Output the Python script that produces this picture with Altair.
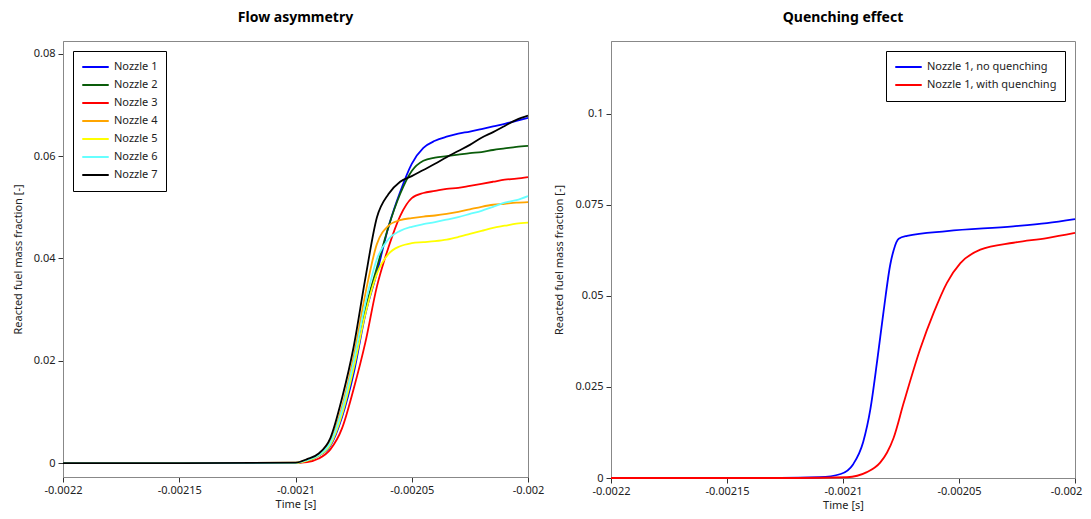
import altair as alt
import pandas as pd

# ---------------- Left panel: flow asymmetry ----------------
time_left = [-0.0022, -0.00215, -0.0021, -0.002095, -0.00209, -0.002085, -0.00208,
             -0.002075, -0.00207, -0.002065, -0.00206, -0.002055, -0.00205,
             -0.002045, -0.00204, -0.002035, -0.00203, -0.002025, -0.00202,
             -0.002015, -0.00201, -0.002005, -0.002]

nozzle1 = [0, 0, 0.00005, 0.0005, 0.0015, 0.0034, 0.0090, 0.0175, 0.0290, 0.0372, 0.0462,
           0.0530, 0.0585, 0.0616, 0.0630, 0.0638, 0.0644, 0.0648, 0.0653, 0.0658,
           0.0663, 0.0669, 0.0675]
nozzle2 = [0, 0, 0.00005, 0.0005, 0.0015, 0.0038, 0.0097, 0.0185, 0.0300, 0.0382, 0.0462,
           0.0526, 0.0571, 0.0591, 0.0597, 0.0600, 0.0603, 0.0606, 0.0608, 0.0612,
           0.0615, 0.0618, 0.0620]
nozzle3 = [0, 0, 0.00005, 0.0002, 0.0009, 0.0027, 0.0068, 0.0145, 0.0235, 0.0345, 0.0422,
           0.0483, 0.0518, 0.0528, 0.0532, 0.0536, 0.0538, 0.0542, 0.0546, 0.0550,
           0.0554, 0.0556, 0.0559]
nozzle4 = [0, 0, 0.0001, 0.0007, 0.0017, 0.0043, 0.0110, 0.0207, 0.0330, 0.0428, 0.0464,
           0.0475, 0.0479, 0.0482, 0.0484, 0.0487, 0.0491, 0.0496, 0.0501, 0.0505,
           0.0507, 0.0509, 0.0510]
nozzle5 = [0, 0, 0.00005, 0.0005, 0.0015, 0.0036, 0.0095, 0.0185, 0.0291, 0.0370, 0.0409,
           0.0424, 0.0430, 0.0432, 0.0434, 0.0437, 0.0442, 0.0448, 0.0454, 0.0460,
           0.0464, 0.0468, 0.0470]
nozzle6 = [0, 0, 0.00005, 0.0006, 0.0016, 0.0040, 0.0104, 0.0198, 0.0311, 0.0399, 0.0438,
           0.0454, 0.0462, 0.0467, 0.0471, 0.0476, 0.0481, 0.0487, 0.0493, 0.0501,
           0.0509, 0.0514, 0.0522]
nozzle7 = [0, 0, 0.0001, 0.0008, 0.0019, 0.0049, 0.0127, 0.0227, 0.0360, 0.0480, 0.0526,
           0.0550, 0.0561, 0.0573, 0.0585, 0.0598, 0.0610, 0.0622, 0.0636, 0.0647,
           0.0659, 0.0671, 0.0679]

left_names = ["Nozzle 1", "Nozzle 2", "Nozzle 3", "Nozzle 4", "Nozzle 5", "Nozzle 6", "Nozzle 7"]
left_colors = ["#0000ff", "#0a5c0a", "#ff0000", "#ffa500", "#ffff00", "#66ffff", "#000000"]
left_series = [nozzle1, nozzle2, nozzle3, nozzle4, nozzle5, nozzle6, nozzle7]

# ---------------- Right panel: quenching effect ----------------
time_noq = [-0.0022, -0.002127, -0.00211, -0.002101, -0.0020956, -0.0020913, -0.0020882,
            -0.0020853, -0.0020825, -0.0020796, -0.0020782, -0.002076, -0.0020724,
            -0.0020552, -0.0020266, -0.0020121, -0.002]
val_noq = [0, 0, 0.0002, 0.0011, 0.0038, 0.0099, 0.0189, 0.0320, 0.0458, 0.0587, 0.0625,
           0.0657, 0.0665, 0.0678, 0.0691, 0.0700, 0.0711]

time_q = [-0.0022, -0.00212, -0.0020983, -0.0020897, -0.0020839, -0.002081, -0.0020782,
          -0.0020739, -0.0020667, -0.0020609, -0.0020552, -0.0020494, -0.0020408,
          -0.0020265, -0.0020121, -0.002]
val_q = [0, 0, 0.0002, 0.0016, 0.0043, 0.0070, 0.0110, 0.0205, 0.0355, 0.0454, 0.0536,
         0.0590, 0.0627, 0.0646, 0.0659, 0.0673]

right_names = ["Nozzle 1, no quenching", "Nozzle 1, with quenching"]
right_colors = ["#0000ff", "#ff0000"]

rows = []
for name, vals in zip(left_names, left_series):
    for t, v in zip(time_left, vals):
        rows.append({"t": t, "v": v, "s": name})
df_left = pd.DataFrame(rows)

rows = []
for t, v in zip(time_noq, val_noq):
    rows.append({"t": t, "v": v, "s": right_names[0]})
for t, v in zip(time_q, val_q):
    rows.append({"t": t, "v": v, "s": right_names[1]})
df_right = pd.DataFrame(rows)

FONT = "Noto Sans"
x_ticks = [-0.0022, -0.00215, -0.0021, -0.00205, -0.002]
LABEL_EXPR = "datum.value < 0 ? '-' + format(-datum.value, '~g') : format(datum.value, '~g')"

def xenc(last_shift=0):
    extra = {}
    if last_shift:
        extra["labelOffset"] = {"condition": {"test": "datum.value > -0.0020001",
                                              "value": last_shift}, "value": 0}
    return alt.X("t:Q", title="Time [s]",
                 scale=alt.Scale(domain=[-0.0022, -0.002], nice=False, zero=False),
                 axis=alt.Axis(values=x_ticks, labelExpr=LABEL_EXPR, grid=False,
                               labelFlush=False, **extra))

def legend(orient):
    return alt.Legend(title=None, orient=orient, offset=10, strokeColor="#000000",
                      fillColor="#ffffff", padding=8, symbolType="stroke",
                      symbolSize=700, symbolStrokeWidth=2, clipHeight=16, rowPadding=2,
                      labelFontSize=11, labelFont=FONT, labelColor="#222222")

left = alt.Chart(df_left, title="Flow asymmetry").mark_line(
    strokeWidth=1.8, interpolate="monotone"
).encode(
    x=xenc(),
    y=alt.Y("v:Q", title="Reacted fuel mass fraction [-]",
            scale=alt.Scale(domain=[-0.0027, 0.0825], nice=False, zero=False),
            axis=alt.Axis(values=[0, 0.02, 0.04, 0.06, 0.08], labelExpr=LABEL_EXPR,
                          grid=False)),
    color=alt.Color("s:N", scale=alt.Scale(domain=left_names, range=left_colors),
                    sort=left_names, legend=legend("top-left")),
    order=alt.Order("t:Q"),
).properties(width=465, height=436)

right = alt.Chart(df_right, title="Quenching effect").mark_line(
    strokeWidth=1.8, interpolate="monotone"
).encode(
    x=xenc(last_shift=-9),
    y=alt.Y("v:Q", title="Reacted fuel mass fraction [-]",
            scale=alt.Scale(domain=[0, 0.12], nice=False, zero=False),
            axis=alt.Axis(values=[0, 0.025, 0.05, 0.075, 0.1], labelExpr=LABEL_EXPR,
                          grid=False)),
    color=alt.Color("s:N", scale=alt.Scale(domain=right_names, range=right_colors),
                    sort=right_names, legend=legend("top-right")),
    order=alt.Order("t:Q"),
).properties(width=464, height=437)

chart = alt.hconcat(left, right, spacing=8).resolve_scale(
    color="independent"
).properties(
    padding={"left": 3, "top": 2, "right": 0, "bottom": 0}
).configure_view(
    stroke="#888888", strokeWidth=1
).configure_axis(
    labelFont=FONT, titleFont=FONT, labelFontSize=11, titleFontSize=11,
    titleFontWeight=400, labelColor="#222222", titleColor="#222222",
    domainColor="#888888", tickColor="#333333", tickSize=5, labelPadding=3,
).configure_axisY(
    titlePadding=10
).configure_axisX(
    titlePadding=3, labelPadding=2
).configure_title(
    font=FONT, fontSize=14, fontWeight="bold", color="#000000", offset=16
)

chart.save("out.html", embed_options={"renderer": "svg", "actions": False})
